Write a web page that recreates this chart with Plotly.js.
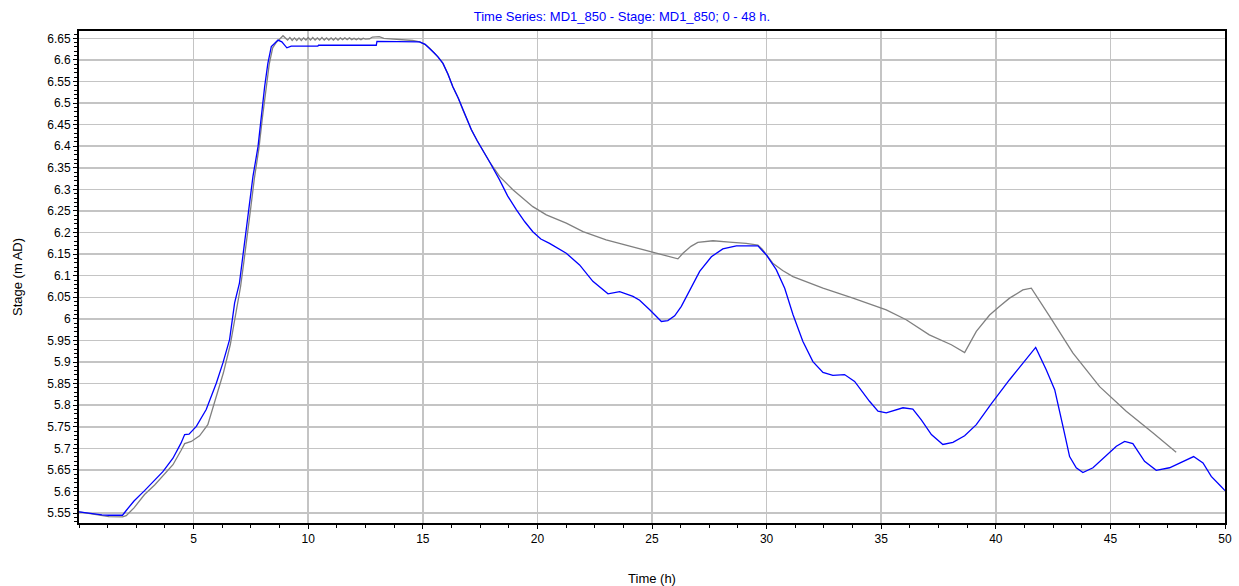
<!DOCTYPE html>
<html>
<head>
<meta charset="utf-8">
<script src="https://cdn.plot.ly/plotly-3.0.1.min.js"></script>
<style>html,body{margin:0;padding:0;background:#fff;}#chart{width:1239px;height:586px;}</style>
</head>
<body>
<div id="chart"></div>
<script>
// Blue series
const blueTime = [0, 0.5, 1.0, 1.3, 1.9, 2.06, 2.4, 2.86, 3.3, 3.66, 4.1, 4.45, 4.61, 4.8, 5.12, 5.55, 5.99, 6.28, 6.57, 6.79, 7.0, 7.15, 7.3, 7.44, 7.59, 7.81, 7.95, 8.1, 8.24, 8.39, 8.53, 8.68, 8.85, 9.07, 9.26, 10.42, 10.45, 12.97, 13.0, 14.56, 14.86, 15.1, 15.3, 15.5, 15.66, 15.88, 16.1, 16.31, 16.55, 16.75, 17.12, 17.38, 17.62, 17.91, 18.35, 18.7, 19.08, 19.45, 19.8, 20.15, 20.53, 21.26, 21.84, 22.42, 23.08, 23.59, 24.17, 24.46, 24.9, 25.41, 25.69, 25.99, 26.28, 26.64, 27.08, 27.59, 28.09, 28.68, 29.62, 29.99, 30.42, 30.79, 31.15, 31.58, 32.02, 32.46, 32.89, 33.4, 33.84, 34.49, 34.86, 35.22, 35.95, 36.38, 36.75, 37.19, 37.69, 38.13, 38.64, 39.15, 39.8, 40.6, 41.26, 41.74, 42.2, 42.57, 42.93, 43.22, 43.51, 43.8, 44.24, 44.82, 45.26, 45.62, 45.98, 46.49, 47.0, 47.58, 48.02, 48.63, 49.04, 49.4, 49.84, 50];
const blueStage = [5.553, 5.549, 5.546, 5.545, 5.545, 5.556, 5.578, 5.602, 5.625, 5.646, 5.677, 5.712, 5.732, 5.733, 5.751, 5.79, 5.851, 5.898, 5.952, 6.037, 6.083, 6.144, 6.214, 6.268, 6.33, 6.399, 6.469, 6.538, 6.592, 6.631, 6.638, 6.646, 6.642, 6.628, 6.632, 6.632, 6.634, 6.634, 6.643, 6.643, 6.642, 6.636, 6.627, 6.616, 6.607, 6.592, 6.567, 6.538, 6.511, 6.484, 6.438, 6.412, 6.391, 6.364, 6.322, 6.285, 6.253, 6.225, 6.202, 6.185, 6.175, 6.152, 6.125, 6.087, 6.058, 6.063, 6.052, 6.043, 6.021, 5.994, 5.996, 6.007, 6.029, 6.067, 6.11, 6.144, 6.162, 6.169, 6.169, 6.148, 6.114, 6.071, 6.01, 5.948, 5.901, 5.876, 5.869, 5.871, 5.855, 5.809, 5.786, 5.782, 5.794, 5.791, 5.766, 5.732, 5.709, 5.714, 5.729, 5.755, 5.803, 5.859, 5.901, 5.934, 5.882, 5.836, 5.751, 5.681, 5.655, 5.644, 5.655, 5.683, 5.705, 5.716, 5.711, 5.67, 5.649, 5.655, 5.666, 5.681, 5.666, 5.635, 5.611, 5.602];

// Gray series
const grayTime = [0, 0.5, 1.0, 1.3, 1.9, 2.06, 2.4, 2.86, 3.3, 3.66, 4.1, 4.45, 4.61, 4.9, 5.26, 5.62, 6.0, 6.3, 6.6, 6.85, 7.05, 7.2, 7.35, 7.5, 7.65, 7.85, 8.0, 8.15, 8.3, 8.45, 8.6, 8.75, 8.9, 9.1, 9.2, 9.3, 9.4, 9.5, 9.6, 9.7, 9.8, 9.9, 10.0, 10.1, 10.2, 10.3, 10.4, 10.5, 10.6, 10.7, 10.8, 10.9, 11.0, 11.1, 11.2, 11.3, 11.4, 11.5, 11.6, 11.7, 11.8, 11.9, 12.0, 12.1, 12.2, 12.3, 12.4, 12.5, 12.68, 12.8, 13.1, 13.3, 14.0, 14.56, 14.86, 15.1, 15.3, 15.5, 15.66, 15.88, 16.1, 16.31, 16.55, 16.75, 17.12, 17.38, 17.62, 17.91, 18.35, 18.93, 19.8, 20.39, 21.26, 21.99, 23.0, 24.17, 24.9, 25.5, 26.13, 26.35, 26.7, 27.0, 27.66, 28.38, 29.11, 29.62, 29.8, 30.27, 30.7, 31.15, 32.46, 33.77, 35.22, 36.09, 37.1, 38.06, 38.64, 39.15, 39.73, 40.17, 40.6, 41.18, 41.55, 42.35, 43.36, 44.53, 45.69, 46.85, 47.87];
const grayStage = [5.553, 5.549, 5.544, 5.542, 5.541, 5.544, 5.562, 5.593, 5.615, 5.637, 5.662, 5.695, 5.711, 5.716, 5.729, 5.755, 5.82, 5.875, 5.94, 6.02, 6.075, 6.135, 6.205, 6.26, 6.325, 6.395, 6.465, 6.535, 6.59, 6.628, 6.64, 6.648, 6.656, 6.646, 6.652, 6.645, 6.651, 6.645, 6.651, 6.645, 6.651, 6.646, 6.652, 6.646, 6.652, 6.646, 6.651, 6.646, 6.652, 6.646, 6.651, 6.646, 6.651, 6.646, 6.651, 6.646, 6.651, 6.647, 6.651, 6.647, 6.651, 6.647, 6.650, 6.647, 6.650, 6.647, 6.650, 6.648, 6.649, 6.653, 6.654, 6.650, 6.648, 6.645, 6.642, 6.636, 6.627, 6.616, 6.607, 6.592, 6.567, 6.538, 6.511, 6.484, 6.438, 6.412, 6.391, 6.364, 6.33, 6.299, 6.26, 6.241, 6.222, 6.202, 6.183, 6.166, 6.156, 6.148, 6.139, 6.152, 6.168, 6.177, 6.181, 6.178, 6.175, 6.171, 6.162, 6.129, 6.112, 6.098, 6.071, 6.048, 6.021, 5.998, 5.963, 5.94, 5.922, 5.971, 6.009, 6.029, 6.048, 6.067, 6.071, 6.006, 5.921, 5.843, 5.786, 5.736, 5.691];

// Tick labels
const xTickVals = [5, 10, 15, 20, 25, 30, 35, 40, 45, 50];
const xTickText = ["5", "10", "15", "20", "25", "30", "35", "40", "45", "50"];
const yTickVals = [5.55, 5.6, 5.65, 5.7, 5.75, 5.8, 5.85, 5.9, 5.95, 6.0, 6.05, 6.1, 6.15, 6.2, 6.25, 6.3, 6.35, 6.4, 6.45, 6.5, 6.55, 6.6, 6.65];
const yTickText = ["5.55", "5.6", "5.65", "5.7", "5.75", "5.8", "5.85", "5.9", "5.95", "6", "6.05", "6.1", "6.15", "6.2", "6.25", "6.3", "6.35", "6.4", "6.45", "6.5", "6.55", "6.6", "6.65"];

const traces = [
  {x: grayTime, y: grayStage, type: 'scatter', mode: 'lines', line: {color: '#808080', width: 1.3}, hoverinfo: 'skip'},
  {x: blueTime, y: blueStage, type: 'scatter', mode: 'lines', line: {color: '#0000ff', width: 1.3}, hoverinfo: 'skip'}
];

const fam = 'Liberation Sans, Arial, sans-serif';
const font = {family: fam, size: 12, color: '#000'};
const titleFont = {family: fam, size: 13, color: '#000'};

const layout = {
  width: 1239, height: 586,
  margin: {l: 79, r: 14, t: 31, b: 63},
  paper_bgcolor: '#fff', plot_bgcolor: '#fff',
  showlegend: false,
  font: font,
  title: {text: 'Time Series: MD1_850 - Stage: MD1_850; 0 - 48 h.', font: {family: fam, size: 13, color: '#0000ff'}, x: 0.502, xref: 'container', xanchor: 'center', y: 0.972, yref: 'container', yanchor: 'middle'},
  xaxis: {
    range: [0, 50], tickmode: 'array', tickvals: xTickVals, ticktext: xTickText,
    ticks: 'outside', ticklen: 4, tickcolor: '#000', tickwidth: 1,
    showgrid: true, gridcolor: '#c4c4c4', gridwidth: 1.5, zeroline: false,
    showline: true, linecolor: '#000', linewidth: 2, mirror: true,
    minor: {dtick: 1.25, tick0: 0, ticks: 'outside', ticklen: 3, tickcolor: '#000', showgrid: false},
    title: {text: 'Time (h)', font: titleFont, standoff: 28},
    automargin: false, fixedrange: true
  },
  yaxis: {
    range: [5.527, 6.667], tickmode: 'array', tickvals: yTickVals, ticktext: yTickText,
    ticks: 'outside', ticklen: 4, tickcolor: '#000', tickwidth: 1,
    showgrid: true, gridcolor: '#c4c4c4', gridwidth: 1.5, zeroline: false,
    showline: true, linecolor: '#000', linewidth: 2, mirror: true,
    minor: {dtick: 0.01, tick0: 5.5, ticks: 'outside', ticklen: 3, tickcolor: '#000', showgrid: false},
    title: {text: 'Stage (m AD)', font: titleFont, standoff: 22},
    automargin: false, fixedrange: true
  }
};

Plotly.newPlot('chart', traces, layout, {displayModeBar: false, staticPlot: true});
</script>
</body>
</html>
